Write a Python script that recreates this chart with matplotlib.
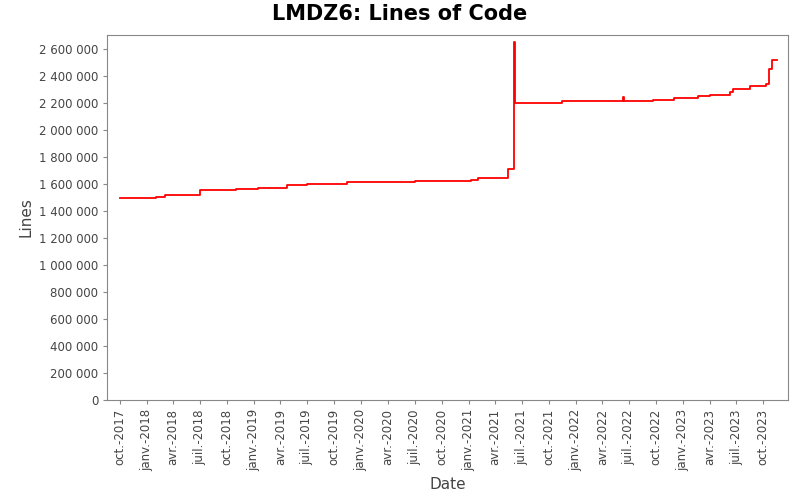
import matplotlib
matplotlib.use("Agg")
import matplotlib.pyplot as plt
import matplotlib.ticker as mticker
import numpy as np
import pandas as pd

# step data (date, lines of code)
dates = ["2017-10-01", "2018-02-01", "2018-03-05", "2018-07-01", "2018-11-01",
         "2019-01-15", "2019-04-25", "2019-07-01", "2019-11-15", "2020-07-01",
         "2021-01-10", "2021-02-01", "2021-05-15", "2021-06-05", "2021-06-08",
         "2021-11-15", "2022-06-10", "2022-06-13", "2022-09-20", "2022-12-01",
         "2023-02-20", "2023-04-01", "2023-06-10", "2023-06-20", "2023-08-15",
         "2023-10-10", "2023-10-20", "2023-11-01", "2023-11-15"]
lines = [1491000, 1499000, 1516000, 1550000, 1558000,
         1568000, 1587000, 1595000, 1610000, 1617000,
         1630000, 1642000, 1711000, 2647000, 2198000,
         2215000, 2244000, 2210000, 2217000, 2237000,
         2247000, 2257000, 2281000, 2301000, 2326000,
         2338000, 2450000, 2516000, 2516000]

tick_dates = pd.date_range("2017-10-01", "2023-10-01", freq="3MS")
month_fr = {1: "janv.", 4: "avr.", 7: "juil.", 10: "oct."}
tick_labels = [f"{month_fr[d.month]}-{d.year}" for d in tick_dates]

d = pd.to_datetime(dates)

fig = plt.figure(figsize=(8, 5), dpi=100)
ax = fig.add_axes([0.134, 0.2, 0.851, 0.73])
ax.plot(d, lines, color="red", lw=1.3, drawstyle="steps-post")

ax.set_xlim(pd.Timestamp("2017-08-20"), pd.Timestamp("2023-12-24"))
ax.set_ylim(0, 2700000)
ax.set_yticks(np.arange(0, 2600001, 200000))
ax.yaxis.set_major_formatter(mticker.FuncFormatter(lambda v, p: f"{int(v):,}".replace(",", " ")))
ax.set_xticks(tick_dates)
ax.set_xticklabels(tick_labels, rotation=90)

for s in ax.spines.values():
    s.set_color("#888888")
ax.tick_params(colors="#888888", labelcolor="#444444", labelsize=8.5, length=3)

fig.text(0.5, 0.972, "LMDZ6: Lines of Code", ha="center", va="center",
         fontsize=15, fontweight="bold")
ax.set_xlabel("Date", fontsize=11, color="#444444")
ax.set_ylabel("Lines", fontsize=11, color="#444444")

fig.savefig("out.png", dpi=100)
